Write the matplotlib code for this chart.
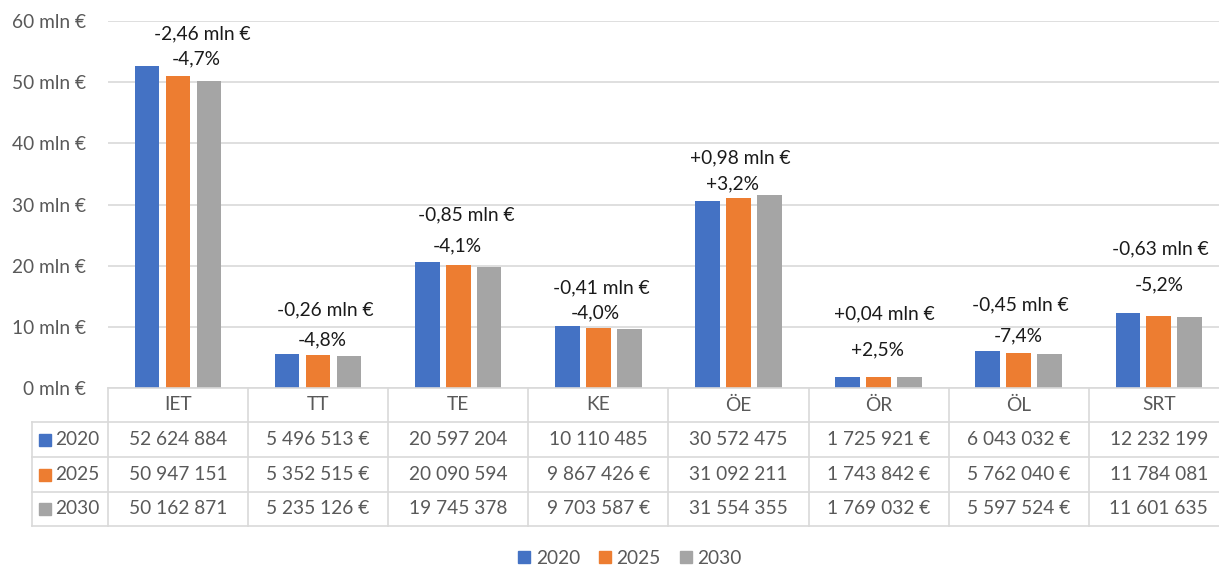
import matplotlib
matplotlib.use("Agg")
import matplotlib.pyplot as plt
from matplotlib.lines import Line2D

plt.rcParams['font.family'] = ['Lato', 'DejaVu Sans']

# ---------------- data ----------------
categories = ["IET", "TT", "TE", "KE", "ÖE", "ÖR", "ÖL", "SRT"]
years = ["2020", "2025", "2030"]
values_2020 = [52624884, 5496513, 20597204, 10110485, 30572475, 1725921, 6043032, 12232199]
values_2025 = [50947151, 5352515, 20090594, 9867426, 31092211, 1743842, 5762040, 11784081]
values_2030 = [50162871, 5235126, 19745378, 9703587, 31554355, 1769032, 5597524, 11601635]
change_abs = ["-2,46 mln €", "-0,26 mln €", "-0,85 mln €", "-0,41 mln €",
              "+0,98 mln €", "+0,04 mln €", "-0,45 mln €", "-0,63 mln €"]
change_pct = ["-4,7%", "-4,8%", "-4,1%", "-4,0%", "+3,2%", "+2,5%", "-7,4%", "-5,2%"]
y_ticks = [0, 10, 20, 30, 40, 50, 60]

# ---------------- layout / style ----------------
colors = ["#4472C4", "#ED7D31", "#A5A5A5"]
grid_col = "#D9D9D9"
txt_col = "#595959"
FS = 13.8
# annotation placement (x offset in category units, y in mln for the two lines)
ann_layout = [(0.17, 57.9, 0.13, 53.8), (0.05, 12.75, 0.03, 7.85), (0.06, 28.3, -0.01, 23.2),
              (0.02, 16.35, -0.02, 12.26), (0.01, 37.6, -0.04, 33.4), (0.04, 12.1, -0.01, 6.2),
              (0.01, 13.6, 0.0, 8.5), (0.01, 22.7, 0.0, 16.8)]

W, H = 1219, 567
fig = plt.figure(figsize=(W / 100, H / 100), dpi=100)
fig.patch.set_facecolor("white")

cat_w = 140.1
left_px, base_px, top_px = 108, 388, 21
right_px = left_px + cat_w * len(categories)
ax = fig.add_axes([left_px / W, (H - base_px) / H, (right_px - left_px) / W, (base_px - top_px) / H])

series = [values_2020, values_2025, values_2030]
bw = 0.175
step = 0.221
n = len(categories)
for k, vals in enumerate(series):
    xs = [i + (k - 1) * step for i in range(n)]
    ax.bar(xs, [v / 1e6 for v in vals], width=bw, color=colors[k], zorder=3)

ax.set_xlim(-0.5, n - 0.5)
ax.set_ylim(0, 60)
ax.set_yticks(y_ticks)
ax.set_yticklabels([f"{t} mln €" for t in y_ticks], fontsize=FS, color=txt_col)
ax.tick_params(axis='y', length=0, pad=16)
ax.set_xticks([])
for s in ax.spines.values():
    s.set_visible(False)
ax.grid(axis='y', color=grid_col, linewidth=1.2, zorder=0)

for i in range(n):
    dx1, y1, dx2, y2 = ann_layout[i]
    ax.text(i + dx1, y1, change_abs[i], ha='center', va='center', fontsize=FS, color="#1a1a1a", clip_on=False)
    ax.text(i + dx2, y2, change_pct[i], ha='center', va='center', fontsize=FS, color="#1a1a1a", clip_on=False)

# ---------------- data table ----------------
tbl_bottom_px = 526
tax = fig.add_axes([left_px / W, (H - tbl_bottom_px) / H, (right_px - left_px) / W, (tbl_bottom_px - base_px) / H])
tax.set_xlim(-0.5, n - 0.5)
row_edges = [0, 34, 69, 104, 138]
tax.set_ylim(138, 0)
tax.axis('off')
lab_left = -0.5 - (108 - 32) / cat_w

lw = 1.2
tax.plot([-0.5, n - 0.5], [row_edges[0]] * 2, color=grid_col, lw=lw, clip_on=False)
for r in row_edges[1:]:
    tax.plot([lab_left, n - 0.5], [r, r], color=grid_col, lw=lw, clip_on=False)
for j in range(n + 1):
    tax.plot([j - 0.5, j - 0.5], [0, 138], color=grid_col, lw=lw, clip_on=False)
tax.plot([lab_left, lab_left], [row_edges[1], 138], color=grid_col, lw=lw, clip_on=False)


def fmt(v):
    s = f"{v:,}".replace(",", " ")
    if v < 1e7:
        s += " €"
    return s


for i, c in enumerate(categories):
    tax.text(i, (row_edges[0] + row_edges[1]) / 2, c, ha='center', va='center', fontsize=FS, color=txt_col)
for k, vals in enumerate(series):
    yc = (row_edges[k + 1] + row_edges[k + 2]) / 2
    for i, v in enumerate(vals):
        tax.text(i, yc, fmt(v), ha='center', va='center', fontsize=FS, color=txt_col)
    tax.plot([-0.5 - (108 - 45) / cat_w], [yc], marker='s', markersize=9, color=colors[k], clip_on=False, lw=0)
    tax.text(-0.5 - (108 - 55) / cat_w, yc, years[k], ha='left', va='center', fontsize=FS, color=txt_col)

# ---------------- legend ----------------
handles = [Line2D([], [], marker='s', linestyle='', markersize=9, color=colors[k]) for k in range(3)]
fig.legend(handles, years, loc='center', bbox_to_anchor=(628 / W, 1 - 558 / H), ncol=3, frameon=False,
           fontsize=FS, labelcolor=txt_col, handletextpad=0.1, columnspacing=0.8, handlelength=1.0)

fig.savefig("out.png", dpi=100)
